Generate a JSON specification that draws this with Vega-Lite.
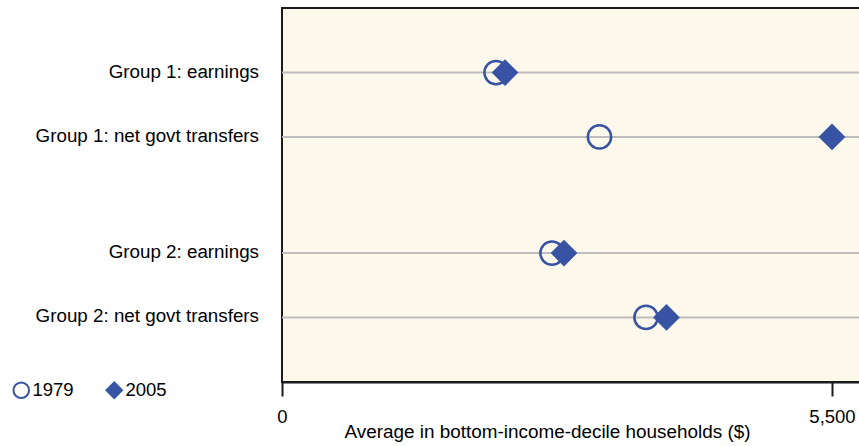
{
  "$schema": "https://vega.github.io/schema/vega-lite/v6.json",
  "autosize": {"type": "none"},
  "padding": {"left": 282, "top": 8, "right": 0, "bottom": 64},
  "width": 580,
  "height": 374,
  "config": {
    "font": "Liberation Sans",
    "view": {"fill": "#fdf8ec", "stroke": "#1a1a1a", "strokeWidth": 2}
  },
  "data": {
    "values": [
      {"group": "Group 1", "measure": "earnings", "label": "Group 1: earnings", "year": "1979", "value": 2140},
      {"group": "Group 1", "measure": "earnings", "label": "Group 1: earnings", "year": "2005", "value": 2230},
      {"group": "Group 1", "measure": "net govt transfers", "label": "Group 1: net govt transfers", "year": "1979", "value": 3175},
      {"group": "Group 1", "measure": "net govt transfers", "label": "Group 1: net govt transfers", "year": "2005", "value": 5500},
      {"group": "Group 2", "measure": "earnings", "label": "Group 2: earnings", "year": "1979", "value": 2700},
      {"group": "Group 2", "measure": "earnings", "label": "Group 2: earnings", "year": "2005", "value": 2820},
      {"group": "Group 2", "measure": "net govt transfers", "label": "Group 2: net govt transfers", "year": "1979", "value": 3640},
      {"group": "Group 2", "measure": "net govt transfers", "label": "Group 2: net govt transfers", "year": "2005", "value": 3845}
    ]
  },
  "encoding": {
    "y": {"field": "group", "type": "nominal", "axis": null,
          "scale": {"domain": ["Group 1", "Group 2"], "paddingInner": 0.2, "paddingOuter": 0.136}},
    "yOffset": {"field": "measure", "type": "nominal",
          "scale": {"domain": ["earnings", "net govt transfers"], "paddingInner": 0, "paddingOuter": 0.123}}
  },
  "layer": [
    {
      "transform": [{"filter": "datum.year === '1979'"}],
      "mark": {"type": "rule", "color": "#bdbdbd", "strokeWidth": 2},
      "encoding": {}
    },
    {
      "transform": [{"filter": "datum.year === '1979'"}],
      "mark": {"type": "text", "align": "right", "baseline": "middle", "dx": -23, "dy": -1, "fontSize": 18.8, "color": "#000000"},
      "encoding": {
        "x": {"datum": 0, "type": "quantitative"},
        "text": {"field": "label"}
      }
    },
    {
      "mark": {"type": "point", "size": 540, "strokeWidth": 2.5, "opacity": 1},
      "encoding": {
        "x": {"field": "value", "type": "quantitative",
              "scale": {"domain": [0, 5800], "nice": false, "zero": false},
              "axis": {"values": [0, 5500], "format": ",.0f", "grid": false, "labelFlush": false,
                       "domain": true, "domainColor": "#1a1a1a", "domainWidth": 2,
                       "ticks": true, "tickSize": 14, "tickColor": "#1a1a1a", "tickWidth": 2,
                       "labelFontSize": 18.5, "labelColor": "#000000", "labelBaseline": "alphabetic", "labelPadding": 26,
                       "title": "Average in bottom-income-decile households ($)",
                       "titleFontSize": 18.9, "titleFontWeight": "normal", "titleColor": "#000000",
                       "titleX": 265, "titleY": 55, "titleAlign": "center", "titleAnchor": null, "titleBaseline": "alphabetic"}},
        "shape": {"field": "year", "type": "nominal",
                  "scale": {"domain": ["1979", "2005"], "range": ["circle", "diamond"]},
                  "legend": {"orient": "none", "direction": "horizontal", "legendX": -270, "legendY": 373,
                             "title": null, "labelFontSize": 18.5, "labelColor": "#000000",
                             "symbolSize": 240, "symbolStrokeWidth": 2, "labelOffset": 2, "columnPadding": 28, "padding": 0}},
        "fill": {"field": "year", "type": "nominal",
                 "scale": {"domain": ["1979", "2005"], "range": ["rgba(0,0,0,0)", "#3953a4"]}},
        "stroke": {"field": "year", "type": "nominal",
                   "scale": {"domain": ["1979", "2005"], "range": ["#3953a4", "#3953a4"]}}
      }
    }
  ]
}
